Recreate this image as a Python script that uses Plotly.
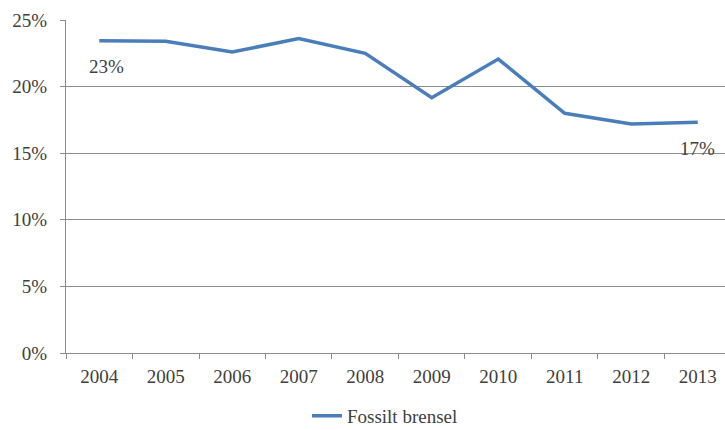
import plotly.graph_objects as go

years = ["2004", "2005", "2006", "2007", "2008", "2009", "2010", "2011", "2012", "2013"]
fossil_share = [23.45, 23.4, 22.6, 23.6, 22.5, 19.17, 22.07, 18.0, 17.19, 17.32]
series_name = "Fossilt brensel"
y_ticks = [0, 5, 10, 15, 20, 25]

font_family = "Liberation Serif, DejaVu Serif, serif"
axis_grey = "#8c8c8c"
text_grey = "#404040"
font_size = 19

fig = go.Figure()
fig.add_trace(go.Scatter(
    x=years,
    y=fossil_share,
    mode="lines",
    name=series_name,
    line=dict(color="#4a7ebb", width=3.5),
    cliponaxis=False,
))

# Value labels below the first and last point (x given as category index)
for idx, dx in ((0, 7), (len(years) - 1, 0)):
    fig.add_annotation(
        x=idx,
        y=fossil_share[idx],
        text=f"{round(fossil_share[idx])}%",
        showarrow=False,
        yshift=-26,
        xshift=dx,
        font=dict(family=font_family, size=font_size, color=text_grey),
    )

fig.update_layout(
    width=725,
    height=430,
    margin=dict(l=66, r=0, t=20, b=77, autoexpand=False),
    paper_bgcolor="white",
    plot_bgcolor="white",
    font=dict(family=font_family, size=font_size, color=text_grey),
    showlegend=True,
    legend=dict(
        orientation="h",
        x=0.484,
        xanchor="center",
        y=-0.246,
        yanchor="bottom",
        font=dict(family=font_family, size=font_size, color=text_grey),
    ),
    xaxis=dict(
        type="category",
        range=[-0.5, 9.41],
        tickson="boundaries",
        ticks="outside",
        ticklen=5,
        tickcolor=axis_grey,
        ticklabelstandoff=6,
        showline=True,
        linecolor=axis_grey,
        linewidth=1,
        showgrid=False,
        tickfont=dict(family=font_family, size=font_size, color=text_grey),
    ),
    yaxis=dict(
        range=[0, 25],
        tickvals=y_ticks,
        ticktext=[f"{t}%" for t in y_ticks],
        ticks="outside",
        ticklen=5,
        tickcolor=axis_grey,
        ticklabelstandoff=9,
        showline=True,
        linecolor=axis_grey,
        linewidth=1,
        showgrid=True,
        gridcolor=axis_grey,
        gridwidth=1,
        zeroline=False,
        tickfont=dict(family=font_family, size=font_size, color=text_grey),
    ),
)

fig.write_html("out.html")
